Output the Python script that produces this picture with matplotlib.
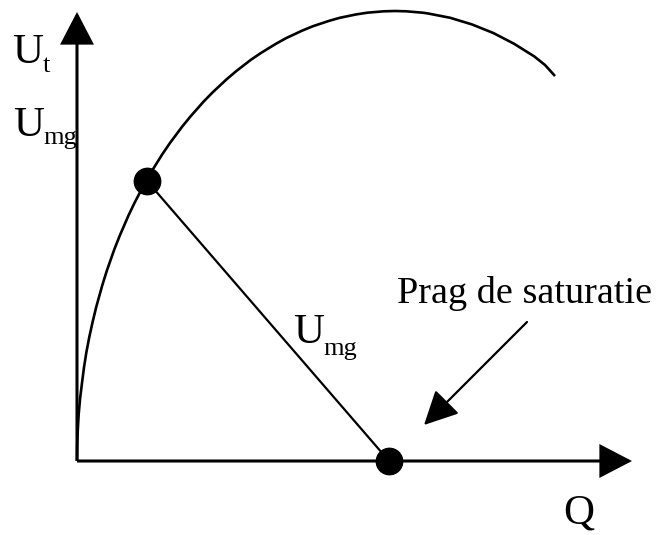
import matplotlib
matplotlib.use("Agg")
import matplotlib.pyplot as plt
from matplotlib.patches import FancyArrowPatch

# ---- data (schematic values; origin = axes crossing) ----
curve_q = [0, 0.2, 0.8, 1.7, 3.1, 5.0, 7.0, 9.4, 12.3, 15.6, 19.2, 25.3, 29.8, 37.2,
           42.6, 51.3, 57.5, 67.4, 74.4, 85.4, 93.1, 105.2, 113.6, 126.6, 135.6,
           149.5, 159, 173.6, 183.6, 198.9, 209.2, 225, 235.7, 251.9, 262.8, 279.2,
           290.3, 306.9, 318, 329.1, 345.7, 351.2, 373.2, 394.9, 416.3, 437.1,
           457.4, 468, 478]
curve_u = [0, 15.7, 31.4, 47, 62.6, 78, 93.6, 108.9, 124, 139, 153.9, 175.8, 190.2,
           211.3, 225, 245.1, 258.1, 277.1, 289.3, 306.9, 318.2, 334.4, 344.7, 359.4,
           368.6, 381.6, 389.7, 401, 407.8, 417.2, 422.9, 430.3, 434.7, 440.1, 443.2,
           446.6, 448.3, 449.7, 450, 449.7, 448.3, 447.5, 443.2, 436.6, 428, 417.2,
           404.5, 396, 385]
point_q = [70, 312]
point_u = [280, 0]

# labels: main letter, subscript
label_ut = ("U", "t")
label_umg = ("U", "mg")
label_q = "Q"
label_prag = "Prag de saturatie"

plt.rcParams["font.family"] = ["Liberation Serif", "DejaVu Serif"]

fig = plt.figure(figsize=(6.57, 5.35), dpi=100)
ax = fig.add_axes([0, 0, 1, 1])
ax.set_xlim(-77, 580)
ax.set_ylim(-74, 461)
ax.axis("off")

# axes with arrow heads
for start, end in [((0, 0), (555, 0)), ((0, 0), (0, 449))]:
    ax.add_patch(FancyArrowPatch(start, end, arrowstyle="-|>,head_length=20,head_width=10.4",
                                 mutation_scale=1, lw=2.2, color="black",
                                 shrinkA=0, shrinkB=0, joinstyle="miter", capstyle="butt"))

# curve
ax.plot(curve_q, curve_u, color="black", lw=1.9, solid_capstyle="butt",
        solid_joinstyle="round")
# connecting segment
ax.plot(point_q, point_u, color="black", lw=1.6)
# dots
ax.plot(point_q, point_u, "o", color="black", markersize=19, zorder=5)

# annotation arrow
ax.add_patch(FancyArrowPatch((450, 139), (347, 36),
                             arrowstyle="-|>,head_length=21,head_width=10.5",
                             mutation_scale=1, lw=1.6, color="black",
                             shrinkA=0, shrinkB=0))

fs = 31
fs_sub = 19


def sub_label(x, y, xs, ys, parts):
    ax.text(x, y, parts[0], fontsize=fs, ha="left", va="baseline")
    ax.text(xs, ys, parts[1], fontsize=fs_sub, ha="left", va="baseline")


sub_label(-65, 398, -34, 389, label_ut)
sub_label(-64, 325, -34, 317, label_umg)
sub_label(216, 118, 246, 106, label_umg)
ax.text(320, 158, label_prag, fontsize=27.5, ha="left", va="baseline")
ax.text(486, -63, label_q, fontsize=fs, ha="left", va="baseline")

fig.savefig("out.png", dpi=100, facecolor="white")
